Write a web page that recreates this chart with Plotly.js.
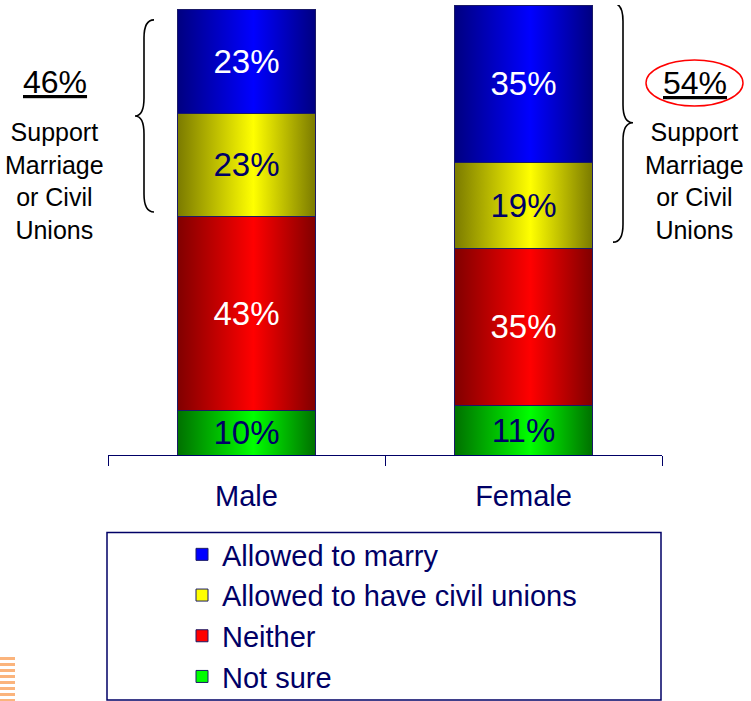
<!DOCTYPE html>
<html>
<head>
<meta charset="utf-8">
<script src="https://cdn.plot.ly/plotly-3.0.1.min.js"></script>
<style>
  html, body { margin: 0; padding: 0; background: #ffffff; overflow: hidden; }
  #chart { width: 751px; height: 701px; }
</style>
</head>
<body>
<div id="chart"></div>
<script>
// ---- data ----
var categories = ['Male', 'Female'];
var notSure   = [10, 11];
var neither   = [43, 35];
var civil     = [23, 19];
var marry     = [23, 35];
var seriesNames = ['Not sure', 'Neither', 'Allowed to have civil unions', 'Allowed to marry'];

// ---- styles ----
var NAVY = '#000066';
var FONT = 'Liberation Sans, Arial, sans-serif';
var brightColors = ['#00ff00', '#ff0000', '#ffff00', '#0000ff'];
var darkColors   = ['#007000', '#800000', '#7a7a00', '#000080'];
var textColors   = [NAVY, '#ffffff', NAVY, '#ffffff'];
var seriesValues = [notSure, neither, civil, marry];

var traces = seriesValues.map(function (vals, i) {
  return {
    type: 'bar',
    name: seriesNames[i],
    x: categories,
    y: vals,
    marker: { color: brightColors[i], line: { color: '#1a1a66', width: 1 } },
    texttemplate: '%{y}%',
    textposition: 'inside',
    insidetextanchor: 'middle',
    textfont: { family: FONT, size: 33, color: textColors[i] },
    hoverinfo: 'skip'
  };
});

// support totals (top two series)
var support = categories.map(function (c, k) { return marry[k] + civil[k]; });
var civilBase = categories.map(function (c, k) { return notSure[k] + neither[k]; });
var tops = categories.map(function (c, k) { return notSure[k] + neither[k] + civil[k] + marry[k]; });

// curly brace path (x in paper, y in data)
function brace(endX, spineX, tipX, bottom, top, d) {
  var mid = (bottom + top) / 2;
  return 'M' + endX + ',' + top +
    ' Q' + spineX + ',' + top + ' ' + spineX + ',' + (top - d) +
    ' L' + spineX + ',' + (mid + d) +
    ' Q' + spineX + ',' + mid + ' ' + tipX + ',' + mid +
    ' Q' + spineX + ',' + mid + ' ' + spineX + ',' + (mid - d) +
    ' L' + spineX + ',' + (bottom + d) +
    ' Q' + spineX + ',' + bottom + ' ' + endX + ',' + bottom;
}

function px2x(p) { return (p - 108) / 554; }
function px2y(p) { return (455 - p) / 450; }

var shapes = [
  // left brace around Male support
  { type: 'path', xref: 'paper', yref: 'y',
    path: brace(px2x(154), px2x(144), px2x(135), civilBase[0] + 1, tops[0] - 2.3, 4),
    line: { color: '#000000', width: 1.6 } },
  // right brace around Female support
  { type: 'path', xref: 'paper', yref: 'y',
    path: brace(px2x(613), px2x(623), px2x(633), civilBase[1] + 1.3, tops[1] + 0.4, 4),
    line: { color: '#000000', width: 1.6 } },
  // red ellipse around 54%
  { type: 'circle', xref: 'paper', yref: 'paper',
    x0: px2x(646), x1: px2x(743), y0: px2y(106), y1: px2y(60),
    line: { color: '#ff0000', width: 1.5 } },
  // legend frame
  { type: 'rect', xref: 'paper', yref: 'paper',
    x0: px2x(107), x1: px2x(661), y0: px2y(700), y1: px2y(532.5),
    line: { color: NAVY, width: 1.5 }, fillcolor: 'rgba(0,0,0,0)' }
];

// decorative orange stripes bottom-left
for (var s = 0; s < 8; s++) {
  var yp = 658.5 + s * 6;
  shapes.push({ type: 'line', xref: 'paper', yref: 'paper',
    x0: px2x(0), x1: px2x(15), y0: px2y(yp), y1: px2y(yp),
    line: { color: '#fbb47c', width: 3 } });
}

var annotations = [
  { xref: 'paper', yref: 'paper', x: px2x(55), y: px2y(82), xanchor: 'center', yanchor: 'middle',
    text: '<u>' + support[0] + '%</u>', showarrow: false,
    font: { family: FONT, size: 32, color: '#000000' } },
  { xref: 'paper', yref: 'paper', x: px2x(54), y: px2y(181), xanchor: 'center', yanchor: 'middle',
    text: 'Support<br>Marriage<br>or Civil<br>Unions', showarrow: false,
    font: { family: FONT, size: 25, color: '#000000' } },
  { xref: 'paper', yref: 'paper', x: px2x(695), y: px2y(83), xanchor: 'center', yanchor: 'middle',
    text: '<u>' + support[1] + '%</u>', showarrow: false,
    font: { family: FONT, size: 32, color: '#000000' } },
  { xref: 'paper', yref: 'paper', x: px2x(694), y: px2y(181), xanchor: 'center', yanchor: 'middle',
    text: 'Support<br>Marriage<br>or Civil<br>Unions', showarrow: false,
    font: { family: FONT, size: 25, color: '#000000' } }
];

var layout = {
  width: 751, height: 701,
  margin: { l: 108, r: 89, t: 5, b: 246, pad: 0, autoexpand: false },
  paper_bgcolor: '#ffffff', plot_bgcolor: '#ffffff',
  barmode: 'stack', bargap: 0.5,
  showlegend: true,
  legend: {
    x: px2x(182), xanchor: 'left',
    y: px2y(529), yanchor: 'top',
    traceorder: 'reversed',
    font: { family: FONT, size: 29, color: NAVY },
    bgcolor: 'rgba(0,0,0,0)', borderwidth: 0
  },
  xaxis: {
    type: 'category', range: [-0.5, 1.5], fixedrange: true,
    showline: true, linecolor: NAVY, linewidth: 1,
    ticks: 'outside', tickson: 'boundaries', ticklen: 10, tickcolor: NAVY, tickwidth: 1,
    ticklabelstandoff: 15,
    tickfont: { family: FONT, size: 29, color: NAVY },
    showgrid: false, zeroline: false
  },
  yaxis: {
    range: [0, 100], fixedrange: true, showticklabels: false,
    showgrid: false, zeroline: false, showline: false, ticks: ''
  },
  shapes: shapes,
  annotations: annotations
};

var gd = document.getElementById('chart');
Plotly.newPlot(gd, traces, layout, { staticPlot: true, displayModeBar: false }).then(function () {
  // add horizontal gradients to bar segments
  var svg = gd.querySelector('.main-svg');
  var ns = 'http://www.w3.org/2000/svg';
  var defs = svg.querySelector('defs') || svg.insertBefore(document.createElementNS(ns, 'defs'), svg.firstChild);
  brightColors.forEach(function (c, i) {
    var g = document.createElementNS(ns, 'linearGradient');
    g.setAttribute('id', 'bargrad' + i);
    g.setAttribute('x1', '0'); g.setAttribute('y1', '0');
    g.setAttribute('x2', '1'); g.setAttribute('y2', '0');
    [[0, darkColors[i]], [0.55, c], [1, darkColors[i]]].forEach(function (st) {
      var stop = document.createElementNS(ns, 'stop');
      stop.setAttribute('offset', st[0]);
      stop.setAttribute('stop-color', st[1]);
      g.appendChild(stop);
    });
    defs.appendChild(g);
  });
  var barTraces = gd.querySelectorAll('.barlayer .trace');
  barTraces.forEach(function (tr, i) {
    tr.querySelectorAll('.point path').forEach(function (p) {
      p.style.fill = 'url(#bargrad' + i + ')';
    });
  });
});
</script>
</body>
</html>
